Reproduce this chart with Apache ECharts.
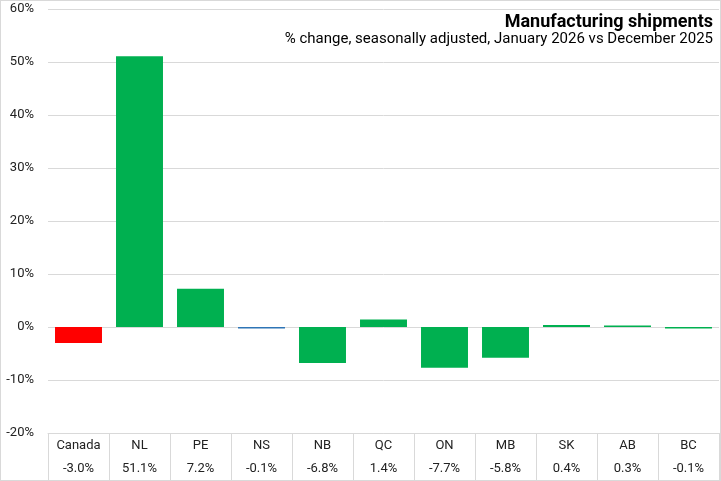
<!DOCTYPE html>
<html><head><meta charset="utf-8">
<script src="https://cdn.jsdelivr.net/npm/echarts@6/dist/echarts.min.js"></script>
<style>
html,body{margin:0;padding:0;background:#fff;}
#c{width:721px;height:481px;box-sizing:border-box;border:1px solid #d9d9d9;}
</style></head>
<body><div id="c"></div>
<script>
var categories = ['Canada','NL','PE','NS','NB','QC','ON','MB','SK','AB','BC'];
var values = [-3.0, 51.1, 7.2, -0.1, -6.8, 1.4, -7.7, -5.8, 0.4, 0.3, -0.1];
var yTicks = [-20,-10,0,10,20,30,40,50,60];

var chart = echarts.init(document.getElementById('c'), null, {renderer:'canvas'});
var font = 'Roboto, "Noto Sans", sans-serif';
chart.setOption({
  animation:false,
  title:[{
    text:'Manufacturing shipments',
    right:2, top:7,
    textStyle:{fontSize:18, fontWeight:'bold', color:'#000', fontFamily:font}
  },{
    text:'% change, seasonally adjusted, January 2026 vs December 2025',
    right:2, top:26,
    textStyle:{fontSize:15, fontWeight:'normal', color:'#000', fontFamily:font}
  }],
  grid:{left:47, right:1, top:8, bottom:47, containLabel:false, outerBoundsMode:'none'},
  xAxis:{
    type:'category', data:categories, position:'bottom',
    axisLine:{show:true, onZero:false, lineStyle:{color:'#d9d9d9', width:1}},
    axisTick:{show:true, interval:0, length:48, alignWithLabel:false, lineStyle:{color:'#d9d9d9'}},
    axisLabel:{
      interval:0, margin:1,
      formatter:function(v, i){ var x = values[i]; return '{a|'+v+'}\n{b|'+x.toFixed(1)+'%}'; },
      rich:{
        a:{fontSize:13, color:'#222', fontFamily:font, lineHeight:23, height:23},
        b:{fontSize:13, color:'#222', fontFamily:font, lineHeight:23, height:23}
      }
    },
    splitLine:{show:false}
  },
  yAxis:{
    type:'value', min:yTicks[0], max:yTicks[yTicks.length-1], interval:10,
    axisLine:{show:false}, axisTick:{show:false},
    axisLabel:{formatter:'{value}%', fontSize:13, color:'#222', fontFamily:font, margin:14},
    splitLine:{show:true, lineStyle:{color:'#d9d9d9', width:1}}
  },
  series:[{
    type:'bar', data:values, barCategoryGap:'23%', barMinHeight:1.5,
    itemStyle:{color:function(p){
      if(p.name==='Canada') return '#ff0000';
      if(p.name==='NS') return '#2e75b6';
      return '#00b050';
    }},
    label:{show:false}
  }]
});
</script></body></html>
